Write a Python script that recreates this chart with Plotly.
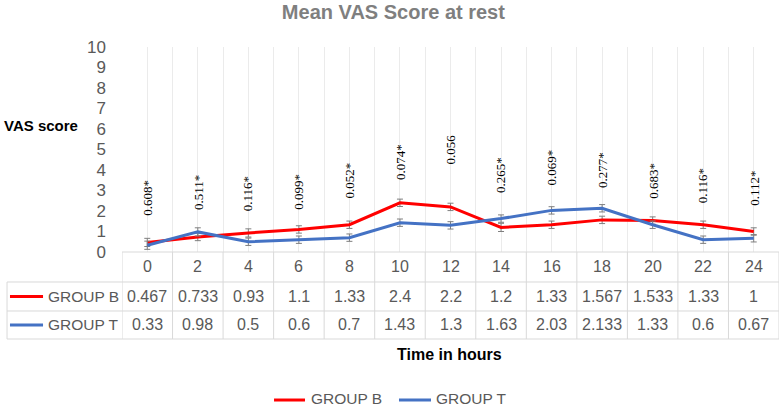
import plotly.graph_objects as go

hours = [0, 2, 4, 6, 8, 10, 12, 14, 16, 18, 20, 22, 24]
group_b = [0.467, 0.733, 0.93, 1.1, 1.33, 2.4, 2.2, 1.2, 1.33, 1.567, 1.533, 1.33, 1]
group_t = [0.33, 0.98, 0.5, 0.6, 0.7, 1.43, 1.3, 1.63, 2.03, 2.133, 1.33, 0.6, 0.67]
err_b = [0.2, 0.18, 0.2, 0.18, 0.18, 0.18, 0.18, 0.2, 0.18, 0.18, 0.18, 0.18, 0.18]
err_t = [0.2, 0.2, 0.18, 0.18, 0.18, 0.18, 0.18, 0.18, 0.18, 0.18, 0.18, 0.18, 0.18]
b_labels = ["0.467", "0.733", "0.93", "1.1", "1.33", "2.4", "2.2", "1.2", "1.33", "1.567", "1.533", "1.33", "1"]
t_labels = ["0.33", "0.98", "0.5", "0.6", "0.7", "1.43", "1.3", "1.63", "2.03", "2.133", "1.33", "0.6", "0.67"]
p_values = ["0.608*", "0.511*", "0.116*", "0.099*", "0.052*", "0.074*", "0.056",
            "0.265*", "0.069*", "0.277*", "0.683*", "0.116*", "0.112*"]
# vertical placement (axis units) of the rotated p-value labels
p_label_y = [2.66, 2.92, 2.83, 2.93, 3.51, 4.39, 4.98, 3.76, 4.10, 4.00, 3.46, 3.22, 3.12]
series_names = ["GROUP B", "GROUP T"]

RED = "#FF0000"
BLUE = "#4472C4"
GREY_TXT = "#595959"
BORDER = "#D9D9D9"
GRID = "#EBEBEB"
SANS = "Liberation Sans, Arial, sans-serif"

fig = go.Figure()
fig.add_trace(go.Scatter(
    x=hours, y=group_b, mode="lines", name=series_names[0],
    line=dict(color=RED, width=3),
    error_y=dict(type="data", array=err_b, color="#7F7F7F", thickness=1, width=3),
))
fig.add_trace(go.Scatter(
    x=hours, y=group_t, mode="lines", name=series_names[1],
    line=dict(color=BLUE, width=3),
    error_y=dict(type="data", array=err_t, color="#7F7F7F", thickness=1, width=3),
))

ann = []
# p-value labels
for h, p, py in zip(hours, p_values, p_label_y):
    ann.append(dict(x=h, y=py, xref="x", yref="y", text=p, showarrow=False,
                    textangle=-90, xanchor="center", yanchor="middle",
                    font=dict(family="Liberation Serif, Times New Roman, serif", size=13, color="black")))

# table rows (paper y)
y_head, y_b, y_t = -0.073, -0.217, -0.356
y_l1, y_l2, y_l3 = -0.1463, -0.2878, -0.4244
x_left = -0.175

def cell(x, y, text, xref="x", xanchor="center", yanchor="middle", size=16, color=GREY_TXT):
    return dict(x=x, y=y, xref=xref, yref="paper", text=text, showarrow=False,
                xanchor=xanchor, yanchor=yanchor,
                font=dict(family=SANS, size=size, color=color))

for h, bl, tl in zip(hours, b_labels, t_labels):
    ann.append(cell(h, y_head, str(h)))
    ann.append(cell(h, y_b, bl))
    ann.append(cell(h, y_t, tl))

for name, yy in zip(series_names, (y_b, y_t)):
    ann.append(cell(-0.1157, yy, name, xref="paper", xanchor="left", size=15.5))

ann.append(cell(-0.1826, 0.6195, "<b>VAS score</b>", xref="paper", xanchor="left",
                size=15, color="black"))
ann.append(cell(0.499, -0.502, "<b>Time in hours</b>", xref="paper", xanchor="center",
                size=16, color="black"))

shapes = []
# table horizontal lines
shapes.append(dict(type="line", xref="paper", yref="paper", x0=0, x1=1, y0=0, y1=0,
                   line=dict(color=BORDER, width=1)))
for yy in (y_l1, y_l2, y_l3):
    shapes.append(dict(type="line", xref="paper", yref="paper", x0=x_left, x1=1, y0=yy, y1=yy,
                       line=dict(color=BORDER, width=1)))
shapes.append(dict(type="line", xref="paper", yref="paper", x0=x_left, x1=x_left, y0=y_l1, y1=y_l3,
                   line=dict(color=BORDER, width=1)))
# table vertical lines at column boundaries
for h in hours + [hours[-1] + 2]:
    shapes.append(dict(type="line", xref="x", yref="paper", x0=h - 1, x1=h - 1, y0=0, y1=y_l3,
                       line=dict(color=BORDER, width=1)))
# legend keys inside table
for col, yy in ((RED, y_b), (BLUE, y_t)):
    shapes.append(dict(type="line", xref="paper", yref="paper", x0=-0.1705, x1=-0.1202, y0=yy, y1=yy,
                       line=dict(color=col, width=3)))

# bottom legend (drawn manually so it does not push the margins)
y_leg_line = -0.722
y_leg_text_bottom = -0.7635
for col, name, (lx0, lx1, tx) in zip((RED, BLUE), series_names,
                                     ((0.2314, 0.2785, 0.2846), (0.4216, 0.4703, 0.4749))):
    shapes.append(dict(type="line", xref="paper", yref="paper", x0=lx0, x1=lx1,
                       y0=y_leg_line, y1=y_leg_line, line=dict(color=col, width=3)))
    ann.append(cell(tx, y_leg_text_bottom, name, xref="paper", xanchor="left",
                    yanchor="bottom", size=15.5))

fig.update_layout(
    width=779, height=409,
    margin=dict(l=122, r=0, t=47, b=157),
    paper_bgcolor="white", plot_bgcolor="white",
    title=dict(text="<b>Mean VAS Score at rest</b>", x=0.505, xref="container",
               y=0.971, yref="container", xanchor="center", yanchor="middle",
               font=dict(family=SANS, size=20, color="#7F7F7F")),
    xaxis=dict(range=[-1, 25], tickmode="linear", tick0=-1, dtick=1, showticklabels=False,
               showgrid=True, gridcolor=GRID, gridwidth=1, zeroline=False, showline=False,
               ticks=""),
    yaxis=dict(range=[0, 10], tickmode="linear", tick0=0, dtick=1, showgrid=False,
               zeroline=False, showline=False, ticks="", ticklabelstandoff=15,
               tickfont=dict(family=SANS, size=17, color=GREY_TXT)),
    showlegend=False,
    annotations=ann,
    shapes=shapes,
)

fig.write_html("out.html", config={"displayModeBar": False},
               post_script="document.body.style.margin='0';document.body.style.padding='0';")
